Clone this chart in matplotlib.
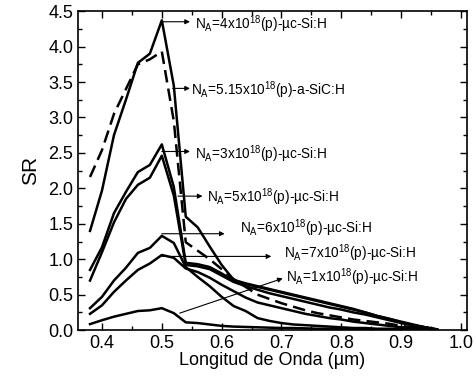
import numpy as np
import matplotlib
matplotlib.use("Agg")
import matplotlib.pyplot as plt
from matplotlib.ticker import MultipleLocator

plt.rcParams['font.family'] = ['Liberation Sans', 'DejaVu Sans']
plt.rcParams['mathtext.fontset'] = 'custom'
plt.rcParams['mathtext.rm'] = 'Liberation Sans'
plt.rcParams['mathtext.it'] = 'Liberation Sans:italic'

# wavelength grid (um)
wl = [0.38, 0.40, 0.42, 0.44, 0.46, 0.48, 0.50, 0.52, 0.54, 0.56, 0.58, 0.60,
      0.62, 0.64, 0.66, 0.68, 0.70, 0.72, 0.74, 0.76, 0.78, 0.80, 0.82, 0.84,
      0.86, 0.88, 0.90, 0.92, 0.94, 0.96]

sr_4e18 = [1.40, 1.97, 2.75, 3.25, 3.77, 3.90, 4.37, 3.45, 1.60, 1.45, 1.18, 0.92,
           0.71, 0.66, 0.62, 0.58, 0.54, 0.50, 0.46, 0.42, 0.38, 0.34, 0.30, 0.25,
           0.20, 0.16, 0.11, 0.07, 0.04, 0.01]
sr_515e18 = [2.16, 2.54, 3.05, 3.40, 3.75, 3.82, 3.93, 2.95, 1.24, 1.12, 1.00, 0.86,
             0.72, 0.61, 0.50, 0.44, 0.38, 0.33, 0.28, 0.24, 0.21, 0.18, 0.15, 0.13,
             0.11, 0.09, 0.06, 0.04, 0.02, 0.00]
sr_3e18 = [0.85, 1.17, 1.65, 1.95, 2.23, 2.33, 2.62, 2.02, 0.95, 0.93, 0.89, 0.80,
           0.70, 0.65, 0.61, 0.57, 0.53, 0.49, 0.45, 0.41, 0.37, 0.33, 0.29, 0.25,
           0.20, 0.16, 0.12, 0.08, 0.04, 0.01]
sr_5e18 = [0.70, 1.10, 1.52, 1.85, 2.05, 2.15, 2.46, 1.90, 0.92, 0.90, 0.86, 0.77,
           0.68, 0.62, 0.57, 0.52, 0.48, 0.44, 0.40, 0.36, 0.32, 0.29, 0.25, 0.22,
           0.18, 0.14, 0.10, 0.07, 0.04, 0.01]
sr_6e18 = [0.31, 0.47, 0.70, 0.88, 1.09, 1.16, 1.33, 1.23, 0.89, 0.75, 0.62, 0.47,
           0.34, 0.27, 0.17, 0.13, 0.10, 0.08, 0.07, 0.06, 0.05, 0.04, 0.03, 0.03,
           0.02, 0.02, 0.01, 0.01, 0.01, 0.00]
sr_7e18 = [0.23, 0.35, 0.54, 0.70, 0.85, 0.94, 1.06, 1.02, 0.87, 0.82, 0.74, 0.64,
           0.55, 0.46, 0.39, 0.35, 0.31, 0.27, 0.23, 0.20, 0.17, 0.15, 0.12, 0.10,
           0.08, 0.06, 0.04, 0.03, 0.02, 0.00]
sr_1e18 = [0.085, 0.14, 0.19, 0.23, 0.27, 0.28, 0.31, 0.24, 0.11, 0.10, 0.08, 0.06,
           0.05, 0.045, 0.04, 0.035, 0.03, 0.03, 0.025, 0.02, 0.02, 0.02, 0.015, 0.01,
           0.01, 0.01, 0.01, 0.005, 0.0, 0.0]

labels = [r'N$_\mathregular{A}$=4x10$^\mathregular{18}$(p)-µc-Si:H',
          r'N$_\mathregular{A}$=5.15x10$^\mathregular{18}$(p)-a-SiC:H',
          r'N$_\mathregular{A}$=3x10$^\mathregular{18}$(p)-µc-Si:H',
          r'N$_\mathregular{A}$=5x10$^\mathregular{18}$(p)-µc-Si:H',
          r'N$_\mathregular{A}$=6x10$^\mathregular{18}$(p)-µc-Si:H',
          r'N$_\mathregular{A}$=7x10$^\mathregular{18}$(p)-µc-Si:H',
          r'N$_\mathregular{A}$=1x10$^\mathregular{18}$(p)-µc-Si:H']

fig = plt.figure(figsize=(4.76, 3.83), dpi=100)
ax = fig.add_axes([0.164, 0.138, 0.817, 0.833])

lw = 1.8
ax.plot(wl, sr_4e18, color='black', lw=lw)
ax.plot(wl, sr_515e18, color='black', lw=lw, ls=(0, (5, 2.5)))
ax.plot(wl, sr_3e18, color='black', lw=lw)
ax.plot(wl, sr_5e18, color='black', lw=lw)
ax.plot(wl, sr_6e18, color='black', lw=lw)
ax.plot(wl, sr_7e18, color='black', lw=lw)
ax.plot(wl, sr_1e18, color='black', lw=lw)

# annotation arrows: (start on curve), (arrow head), (text position)
arrows = [((0.500, 4.35), (0.547, 4.35), (0.555, 4.32)),
          ((0.518, 3.41), (0.547, 3.41), (0.549, 3.39)),
          ((0.500, 2.52), (0.547, 2.52), (0.555, 2.48)),
          ((0.527, 1.89), (0.568, 1.89), (0.575, 1.88)),
          ((0.500, 1.36), (0.605, 1.36), (0.630, 1.44)),
          ((0.500, 1.04), (0.683, 1.04), (0.705, 1.09)),
          ((0.530, 0.24), (0.702, 0.73), (0.708, 0.75))]
for (start, head, tpos), lab in zip(arrows, labels):
    ax.annotate('', xy=head, xytext=start,
                arrowprops=dict(arrowstyle='-|>', color='black', lw=0.8,
                                mutation_scale=7, shrinkA=0, shrinkB=0))
    ax.text(tpos[0], tpos[1], lab, fontsize=9.8, ha='left', va='center')

ax.set_xlim(0.36, 1.01)
ax.set_ylim(0, 4.5)
ax.xaxis.set_major_locator(MultipleLocator(0.1))
ax.xaxis.set_minor_locator(MultipleLocator(0.05))
ax.yaxis.set_major_locator(MultipleLocator(0.5))
ax.yaxis.set_minor_locator(MultipleLocator(0.25))
ax.tick_params(which='both', direction='in', top=True, right=True, labelsize=13)
ax.tick_params(which='major', length=5, width=1)
ax.tick_params(which='minor', length=3, width=1)
for s in ax.spines.values():
    s.set_linewidth(1.2)

ax.set_xlabel('Longitud de Onda (µm)', fontsize=13, labelpad=0)
ax.set_ylabel('SR', fontsize=15, labelpad=6)

fig.savefig('out.png', dpi=100)
